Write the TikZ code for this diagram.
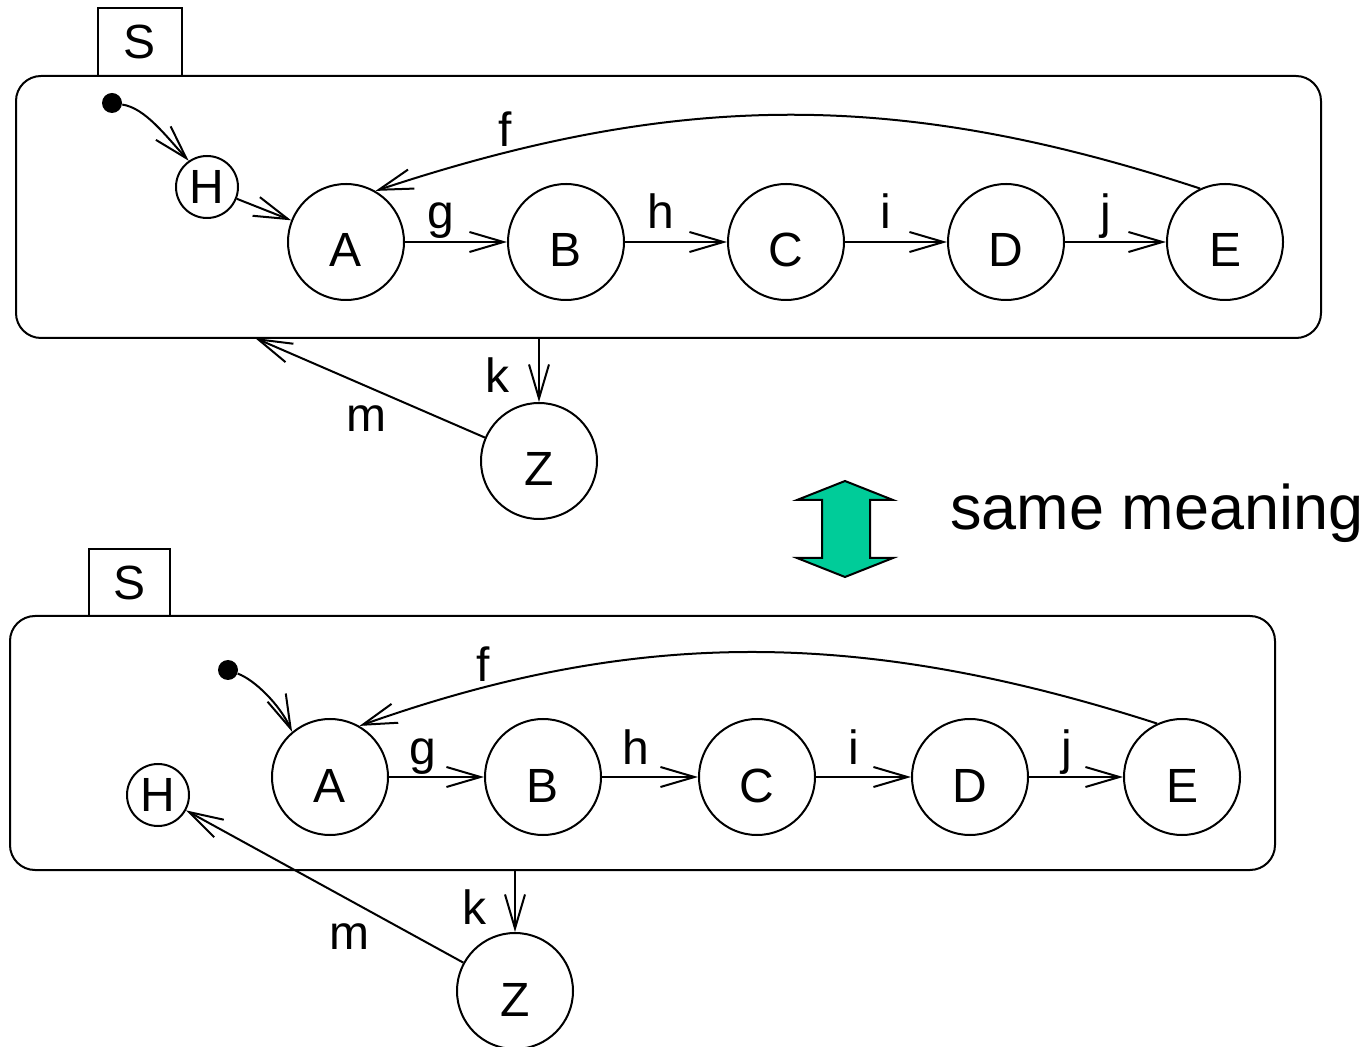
\documentclass[tikz,border=0pt]{standalone}
\usepackage{fontspec}
\setmainfont{Liberation Sans}
\usetikzlibrary{arrows.meta}
\definecolor{arrowgreen}{RGB}{0,204,153}
\begin{document}
\begin{tikzpicture}[x=0.5pt,y=-0.5pt,
  lw/.style={line width=1pt},
  lbl/.style={font=\fontsize{24}{28}\selectfont, inner sep=0pt, anchor=base},
  state/.style={circle, draw, lw, minimum size=58pt, inner sep=0pt,
    font=\fontsize{24}{28}\selectfont, text height=25pt, text depth=0pt},
  hist/.style={circle, draw, lw, minimum size=31pt, inner sep=0pt,
    font=\fontsize{24}{28}\selectfont},
  initdot/.style={circle, fill=black, minimum size=10pt, inner sep=0pt},
  tab/.style={rectangle, draw, lw, inner sep=0pt, font=\fontsize{24}{28}\selectfont},
  superstate/.style={rectangle, draw, lw, rounded corners=12.5pt, inner sep=0pt},
  arr/.style={lw, -{Straight Barb[length=17pt,width=10pt]}}
]
\useasboundingbox (0,0) rectangle (1371,1047);

% ---------- top diagram ----------
\node[superstate, minimum width=652.5pt, minimum height=131pt] (box1) at (668.5,207) {};
\node[tab, minimum width=42pt, minimum height=34pt] (S1) at (140,42) {S};
\node[initdot] (i1) at (112,103) {};
\node[hist] (H1) at (207,187) {H};
\node[state] (A1) at (346,242) {A};
\node[state] (B1) at (566,242) {B};
\node[state] (C1) at (786,242) {C};
\node[state] (D1) at (1006,242) {D};
\node[state] (E1) at (1225,242) {E};
\node[state] (Z1) at (539,461) {Z};
\coordinate (m1end) at (255,338);

\draw[arr] (i1) .. controls (145,108) and (165,135) .. (H1.125);
\draw[arr] (H1) -- (A1);
\draw[arr] (A1) -- (B1);
\draw[arr] (B1) -- (C1);
\draw[arr] (C1) -- (D1);
\draw[arr] (D1) -- (E1);
\draw[arr] (E1.115) .. controls (900,90) and (680,90) .. (A1.60);
\draw[arr] (box1.south -| Z1) -- (Z1);
\draw[arr] (Z1) -- (m1end);

\node[lbl] (g1) at (441,229) {g};
\node[lbl] (h1) at (661,229) {h};
\node[lbl] (ii1) at (886,229) {i};
\node[lbl] (j1) at (1106,229) {j};
\node[lbl] (f1) at (505,147) {f};
\node[lbl] (k1) at (497,393) {k};
\node[lbl] (mm1) at (366,432) {m};

% ---------- equivalence arrow ----------
\draw[lw, fill=arrowgreen] (845,481) -- (893,500) -- (870,500) -- (870,558) -- (893,558)
  -- (845,577) -- (797,558) -- (822,558) -- (822,500) -- (797,500) -- cycle;
\node[font=\fontsize{31.5}{36}\selectfont, inner sep=0pt, anchor=base west] (same) at (950,530) {same meaning};

% ---------- bottom diagram ----------
\node[superstate, minimum width=632.5pt, minimum height=127pt] (box2) at (642.5,743) {};
\node[tab, minimum width=40.5pt, minimum height=33.5pt] (S2) at (129.5,582.5) {S};
\node[initdot] (i2) at (228,670) {};
\node[hist] (H2) at (158,795) {H};
\node[state] (A2) at (330,777) {A};
\node[state] (B2) at (543,777) {B};
\node[state] (C2) at (757,777) {C};
\node[state] (D2) at (970,777) {D};
\node[state] (E2) at (1182,777) {E};
\node[state] (Z2) at (515,991) {Z};

\draw[arr] (i2) .. controls (255,680) and (280,705) .. (A2.130);
\draw[arr] (A2) -- (B2);
\draw[arr] (B2) -- (C2);
\draw[arr] (C2) -- (D2);
\draw[arr] (D2) -- (E2);
\draw[arr] (E2.115) .. controls (860,628) and (635,628) .. (A2.60);
\draw[arr] (box2.south -| Z2) -- (Z2);
\draw[arr] (Z2) -- (H2);

\node[lbl] (g2) at (423,764) {g};
\node[lbl] (h2) at (636,764) {h};
\node[lbl] (ii2) at (854,764) {i};
\node[lbl] (j2) at (1067,764) {j};
\node[lbl] (f2) at (483,682) {f};
\node[lbl] (k2) at (474,924) {k};
\node[lbl] (mm2) at (349,949) {m};
\end{tikzpicture}
\end{document}
